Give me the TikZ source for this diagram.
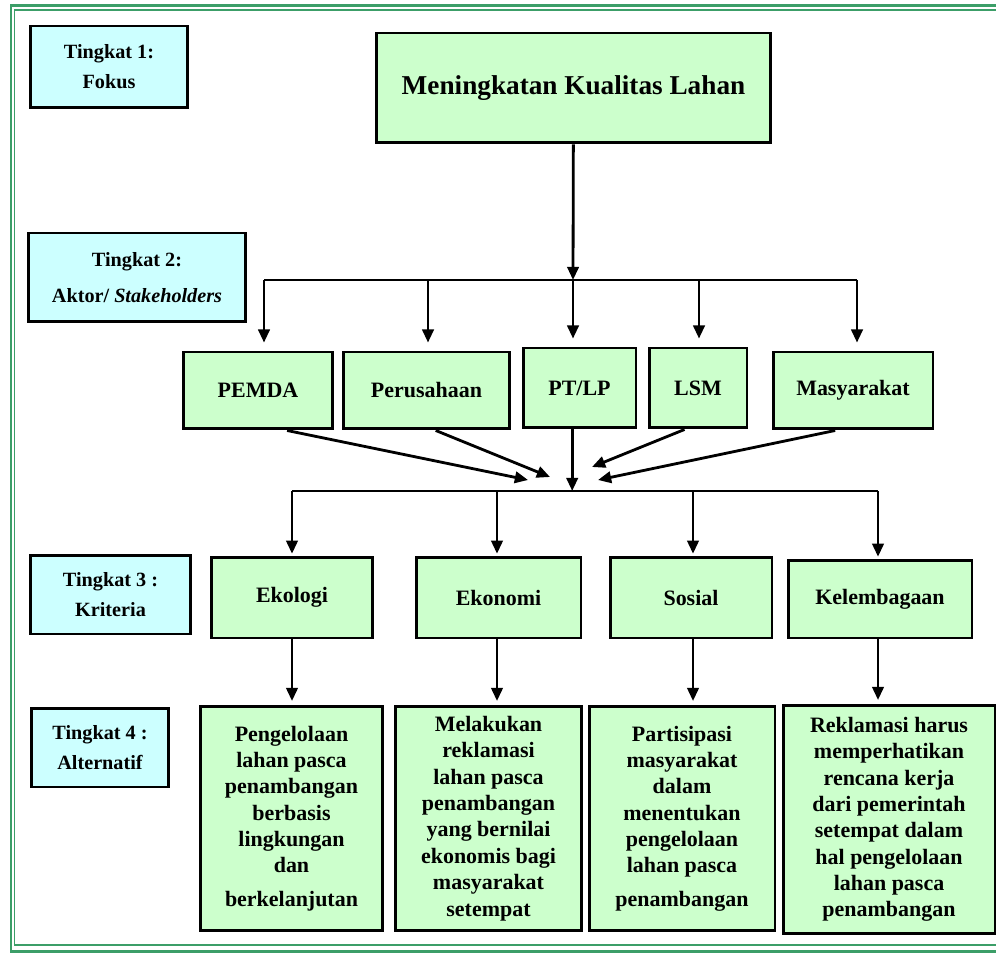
\documentclass[tikz,border=0pt]{standalone}
\usepackage{fontspec}
\setmainfont{Liberation Serif}
\usetikzlibrary{positioning}
\usetikzlibrary{arrows.meta}
\definecolor{ahpGreen}{RGB}{204,255,204}
\definecolor{ahpCyan} {RGB}{204,255,255}
\definecolor{ahpFrame}{RGB}{60,158,104}

\begin{document}
\begin{tikzpicture}
[x=0.02cm, y=-0.02cm, line width=1.6pt, >={Triangle[length=7.5pt,width=6.5pt]},
  lvl/.style = { draw, fill = ahpCyan, line width = 1.7pt, align = center, inner sep = 2pt,
                 font = \fontsize{11.5}{15}\selectfont\bfseries },
  box/.style = { draw, fill = ahpGreen, line width = 1.7pt, align = center, inner sep = 2pt,
                 font = \fontsize{12.5}{15}\selectfont\bfseries }
]
\useasboundingbox (0,0) rectangle (996,955);

% Frame (its right side lies outside the picture):
\draw[ahpFrame, line width=1.7pt] (996,5.5) -- (11,5.5) -- (11,951) -- (996,951);
\draw[ahpFrame, line width=0.9pt] (996,10) -- (14.5,10) -- (14.5,945) -- (996,945);

% Levels:
\node[lvl, minimum width=3.16cm, minimum height=1.64cm] (lvl1) at (109,67)    {Tingkat 1:\\[2pt] Fokus};
\node[lvl, minimum width=4.36cm, minimum height=1.78cm] (lvl2) at (137,277.5) {Tingkat 2:\\[5.5pt] Aktor/ \textit{Stakeholders}};
\node[lvl, minimum width=3.22cm, minimum height=1.58cm] (lvl3) at (110.5,594.5) {Tingkat 3 :\\[2pt] Kriteria};
\node[lvl, minimum width=2.76cm, minimum height=1.58cm] (lvl4) at (100,747.5) {Tingkat 4 :\\[2pt] Alternatif};

% Focus:
\node[box, minimum width=7.9cm, minimum height=2.2cm, font=\fontsize{15.5}{19}\selectfont\bfseries]
  (fokus) at (573.5,88) {Meningkatan Kualitas Lahan};

% Actors:
\node[box, minimum width=3.00cm, minimum height=1.54cm] (pemda)      at (258,390.5) {\raisebox{-3pt}{PEMDA}};
\node[box, minimum width=3.34cm, minimum height=1.54cm] (perusahaan) at (426.5,390.5) {Perusahaan};
\node[box, minimum width=2.26cm, minimum height=1.60cm] (ptlp)       at (579.5,388) {\raisebox{-3pt}{PT/LP}};
\node[box, minimum width=1.96cm, minimum height=1.60cm] (lsm)        at (698,388) {\raisebox{-3pt}{LSM}};
\node[box, minimum width=3.20cm, minimum height=1.54cm] (masyarakat) at (853,390.5) {Masyarakat};

% Criteria:
\node[box, minimum width=3.24cm, minimum height=1.62cm] (ekologi)      at (292,597.5) {\raisebox{-3pt}{Ekologi}};
\node[box, minimum width=3.30cm, minimum height=1.62cm] (ekonomi)      at (498.5,597.5) {Ekonomi};
\node[box, minimum width=3.24cm, minimum height=1.62cm] (sosial)       at (691,597.5) {Sosial};
\node[box, minimum width=3.68cm, minimum height=1.56cm] (kelembagaan)  at (880,599) {\raisebox{-3pt}{Kelembagaan}};

% Alternatives:
\node[box, minimum width=3.66cm, minimum height=4.50cm] (pengelolaan) at (291.5,818.5)
  {Pengelolaan\\ lahan pasca\\ penambangan\\ berbasis\\ lingkungan\\ dan\\[4pt] berkelanjutan};
\node[box, minimum width=3.74cm, minimum height=4.50cm] (melakukan)   at (488.5,818.5)
  {Melakukan\\ reklamasi\\ lahan pasca\\ penambangan\\ yang bernilai\\ ekonomis bagi\\ masyarakat\\ setempat};
\node[box, minimum width=3.72cm, minimum height=4.50cm] (partisipasi) at (682,818.5)
  {Partisipasi\\ masyarakat\\ dalam\\ menentukan\\ pengelolaan\\ lahan pasca\\[4pt] penambangan};
\node[box, minimum width=4.24cm, minimum height=4.58cm] (reklamasi)   at (889,819.5)
  {Reklamasi harus\\ memperhatikan\\ rencana kerja\\ dari pemerintah\\ setempat dalam\\ hal pengelolaan\\ lahan pasca\\ penambangan};

% Focus to actors:
\coordinate (bus1) at (573,280);
\draw[->] (fokus) -- (bus1);
\foreach \x/\n in {264/pemda, 428/perusahaan, 573/ptlp, 699/lsm, 857/masyarakat}
{
  \coordinate (d-\n) at (\x,280);
  \draw[->, shorten >=4.5pt] (d-\n) -- (d-\n |- \n.north);
}
\draw (d-pemda) -- (d-masyarakat);

% Actors to criteria:
\coordinate (m-pemda)      at (528,480);
\coordinate (m-perusahaan) at (550,477);
\coordinate (m-lsm)        at (592,467);
\coordinate (m-masyarakat) at (598,480);
\draw[->] (pemda.-54)       -- (m-pemda);
\draw[->] (perusahaan.-77)  -- (m-perusahaan);
\draw[->] (lsm.-108)        -- (m-lsm);
\draw[->] (masyarakat.-114) -- (m-masyarakat);

\foreach \x/\n in {292/ekologi, 497/ekonomi, 693/sosial, 878/kelembagaan}
{
  \coordinate (k-\n) at (\x,491);
  \draw[->, shorten >=1pt] (k-\n) -- (k-\n |- \n.north);
}
\draw (k-ekologi) -- (k-kelembagaan);
\draw[->] (ptlp.-100) -- (ptlp.-100 |- k-ekologi);

% Criteria to alternatives:
\draw[->, shorten >=2pt] (ekologi.south)     -- (ekologi.south |- pengelolaan.north);
\draw[->, shorten >=2pt] (k-ekonomi |- ekonomi.south) -- (k-ekonomi |- melakukan.north);
\draw[->, shorten >=2pt] (k-sosial |- sosial.south)   -- (k-sosial |- partisipasi.north);
\draw[->, shorten >=2pt] (k-kelembagaan |- kelembagaan.south) -- (k-kelembagaan |- reklamasi.north);
\end{tikzpicture}
\end{document}
